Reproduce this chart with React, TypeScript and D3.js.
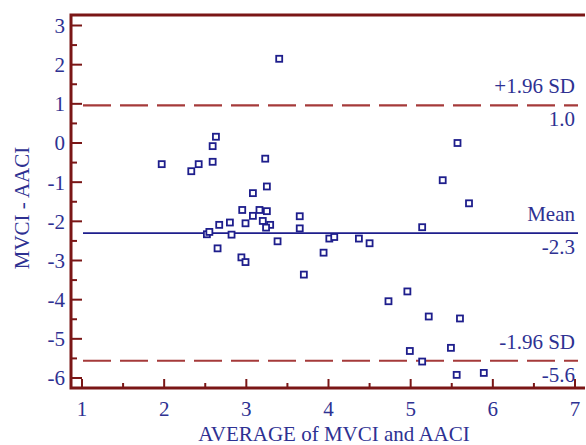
import React, { useEffect, useRef } from 'react';
import * as d3 from 'd3';

// Bland-Altman: average vs difference
const avgValues = [
  1.97, 2.33, 2.42, 2.59, 2.59, 2.63, 3.23, 3.40,
  3.25, 3.08, 2.95, 3.16, 3.25, 3.08, 2.99, 2.80, 2.67, 3.20, 3.29, 3.24,
  2.52, 2.55, 2.82, 2.65, 2.94, 2.99, 3.38, 3.65, 3.65, 4.01, 4.07, 3.94, 3.70,
  4.37, 4.50, 5.14, 5.57, 5.39, 5.71,
  4.73, 4.96, 5.22, 5.60, 4.99, 5.49, 5.14, 5.56, 5.89,
];
const diffValues = [
  -0.54, -0.72, -0.54, -0.48, -0.08, 0.16, -0.40, 2.15,
  -1.11, -1.28, -1.71, -1.71, -1.74, -1.86, -2.05, -2.03, -2.09, -1.99, -2.09, -2.16,
  -2.33, -2.27, -2.34, -2.69, -2.92, -3.04, -2.51, -1.87, -2.18, -2.44, -2.40, -2.80, -3.36,
  -2.44, -2.56, -2.15, 0.0, -0.95, -1.54,
  -4.04, -3.79, -4.43, -4.48, -5.31, -5.23, -5.58, -5.92, -5.87,
];
const xTicks = [1, 2, 3, 4, 5, 6, 7];
const yTicks = [3, 2, 1, 0, -1, -2, -3, -4, -5, -6];
const meanDiff = -2.3;
const upperLimit = 0.96;
const lowerLimit = -5.56;
const refLines = [
  { value: upperLimit, name: '+1.96 SD', label: '1.0', kind: 'sd' },
  { value: meanDiff, name: 'Mean', label: '-2.3', kind: 'mean' },
  { value: lowerLimit, name: '-1.96 SD', label: '-5.6', kind: 'sd' },
];

const W = 586;
const H = 445;
const frameLeft = 71;
const frameTop = 15;
const frameBottom = 388;
const frameRight = 585;
const font = '"Liberation Serif", "Times New Roman", serif';
const textColor = '#2e3192';
const frameColor = '#7a1616';
const dashColor = '#a53a3a';
const markColor = '#1e1e8c';

export default function App() {
  const ref = useRef<SVGSVGElement>(null);

  useEffect(() => {
    const svg = d3.select(ref.current);
    svg.selectAll('*').remove();

    const x = d3.scaleLinear().domain([1, 7]).range([82, 575]);
    const y = d3.scaleLinear().domain([3, -6]).range([25.5, 378]);

    // reference lines
    refLines.forEach((r) => {
      svg
        .append('line')
        .attr('x1', 83)
        .attr('x2', 578)
        .attr('y1', y(r.value))
        .attr('y2', y(r.value))
        .attr('stroke', r.kind === 'mean' ? markColor : dashColor)
        .attr('stroke-width', r.kind === 'mean' ? 1.8 : 2.2)
        .attr('stroke-dasharray', r.kind === 'mean' ? null : '28,9');
      svg
        .append('text')
        .attr('x', 575)
        .attr('y', y(r.value) - 12)
        .attr('text-anchor', 'end')
        .attr('font-family', font)
        .attr('font-size', 21)
        .attr('fill', textColor)
        .text(r.name);
      svg
        .append('text')
        .attr('x', 575)
        .attr('y', y(r.value) + 21)
        .attr('text-anchor', 'end')
        .attr('font-family', font)
        .attr('font-size', 21)
        .attr('fill', textColor)
        .text(r.label);
    });

    // points
    svg
      .append('g')
      .selectAll('rect')
      .data(avgValues.map((a, i) => [a, diffValues[i]]))
      .enter()
      .append('rect')
      .attr('x', (d) => x(d[0]) - 3)
      .attr('y', (d) => y(d[1]) - 3)
      .attr('width', 6)
      .attr('height', 6)
      .attr('fill', 'white')
      .attr('stroke', markColor)
      .attr('stroke-width', 1.8);

    // frame
    const fr = svg.append('g').attr('stroke', frameColor).attr('fill', 'none');
    fr.append('path')
      .attr('d', `M${frameRight},${frameTop}H${frameLeft}V${frameBottom}H${frameRight}`)
      .attr('stroke-width', 3);

    // y ticks (inward)
    d3.range(-6, 3.01, 0.5).forEach((v) => {
      const major = Number.isInteger(v);
      fr.append('line')
        .attr('x1', frameLeft)
        .attr('x2', frameLeft + (major ? 11 : 6))
        .attr('y1', y(v))
        .attr('y2', y(v))
        .attr('stroke-width', 2);
    });
    // x ticks (inward)
    d3.range(1, 7.01, 0.5).forEach((v) => {
      const major = Number.isInteger(v);
      fr.append('line')
        .attr('x1', x(v))
        .attr('x2', x(v))
        .attr('y1', frameBottom)
        .attr('y2', frameBottom - (major ? 9 : 5))
        .attr('stroke-width', 2);
    });

    const tl = svg.append('g').attr('font-family', font).attr('font-size', 21).attr('fill', textColor);
    yTicks.forEach((v) => {
      tl.append('text')
        .attr('x', 65)
        .attr('y', y(v))
        .attr('dy', '0.35em')
        .attr('text-anchor', 'end')
        .text(String(v));
    });
    xTicks.forEach((v) => {
      tl.append('text')
        .attr('x', x(v))
        .attr('y', 416)
        .attr('text-anchor', 'middle')
        .text(String(v));
    });

    tl.append('text')
      .attr('x', 334)
      .attr('y', 441)
      .attr('text-anchor', 'middle')
      .attr('font-size', 21)
      .text('AVERAGE of MVCI and AACI');
    tl.append('text')
      .attr('transform', `translate(29,208) rotate(-90)`)
      .attr('text-anchor', 'middle')
      .attr('font-size', 21)
      .text('MVCI - AACI');
  }, []);

  return (
    <svg
      ref={ref}
      width={W}
      height={H}
      style={{ position: 'absolute', left: 0, top: 0, background: 'white' }}
    />
  );
}
